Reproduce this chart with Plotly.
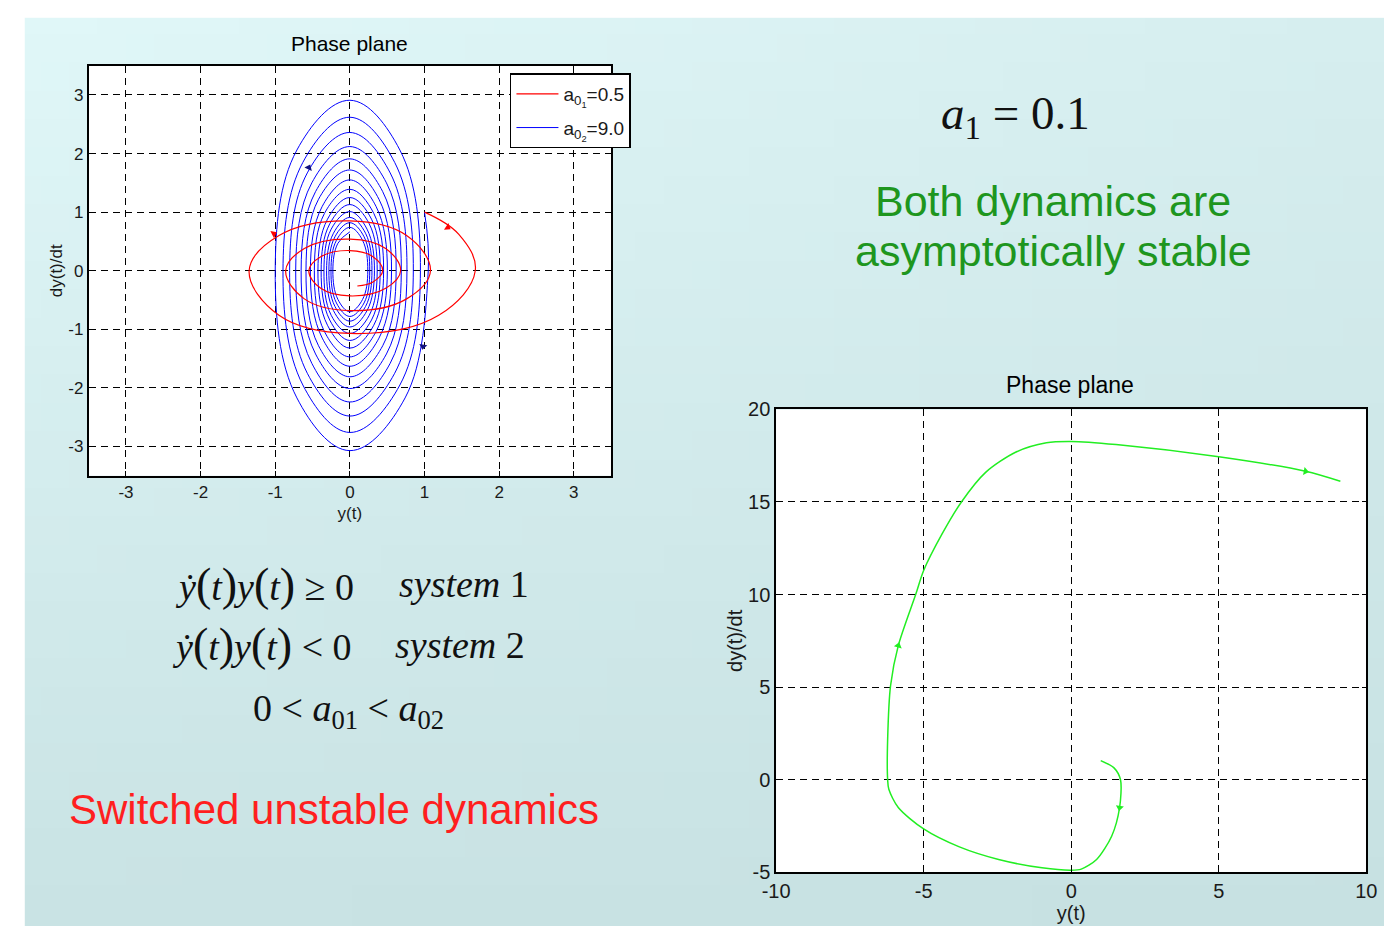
import base64
import struct
import zlib

import plotly.graph_objects as go

W, H = 1395, 937

# ---------------- data ----------------
# System 1 alone (a01 = 0.5): slowly decaying spiral in the (y, dy/dt) plane
red_y = [1.00, 1.46, 1.68, 1.19, 0.00, -0.95, -1.35, -0.95, 0.00, 0.76, 1.08, 0.76,
         0.00, -0.61, -0.86, -0.61, 0.00, 0.48, 0.68, 0.48, 0.00, -0.39, -0.55, -0.39,
         0.00, 0.31, 0.44, 0.31, 0.10]
red_dy = [1.00, 0.62, 0.00, -0.76, -1.07, -0.76, 0.00, 0.60, 0.85, 0.60, 0.00, -0.48,
          -0.68, -0.48, 0.00, 0.38, 0.54, 0.38, 0.00, -0.30, -0.43, -0.30, 0.00, 0.24,
          0.345, 0.24, 0.00, -0.19, -0.26]

# System 2 alone (a02 = 9.0): tall spiral, eight points per turn
blue_y = [1.00, 1.05, 0.74, 0, -0.71, -1.00, -0.71, 0, 0.67,
          0.945, 0.67, 0, -0.63, -0.896, -0.63, 0, 0.60,
          0.85, 0.60, 0, -0.57, -0.807, -0.57, 0, 0.54,
          0.765, 0.54, 0, -0.51, -0.726, -0.51, 0, 0.49,
          0.689, 0.49, 0, -0.46, -0.653, -0.46, 0, 0.44,
          0.62, 0.44, 0, -0.42, -0.588, -0.42, 0, 0.39,
          0.558, 0.39, 0, -0.37, -0.529, -0.37, 0, 0.35,
          0.502, 0.35, 0, -0.34, -0.476, -0.34, 0, 0.32,
          0.452, 0.32, 0, -0.30, -0.428, -0.30, 0, 0.29,
          0.406, 0.29, 0, -0.27, -0.385, -0.27, 0, 0.26,
          0.366, 0.26, 0, -0.25, -0.347, -0.25, 0, 0.23,
          0.329, 0.23, 0, -0.22, -0.312, -0.22, 0, 0.21,
          0.296, 0.21, 0, -0.20, -0.281, -0.20, 0, 0.19,
          0.266, 0.19, 0, -0.18, -0.253, -0.18, 0, 0.17,
          0.24, 0.17, 0, -0.16, -0.228, -0.16, 0]
blue_dy = [1.00, 0, -2.17, -3.07, -2.17, 0, 2.06, 2.91, 2.06,
           0, -1.95, -2.76, -1.95, 0, 1.85, 2.62, 1.85,
           0, -1.75, -2.48, -1.75, 0, 1.67, 2.36, 1.67,
           0, -1.58, -2.24, -1.58, 0, 1.50, 2.12, 1.50,
           0, -1.42, -2.01, -1.42, 0, 1.35, 1.91, 1.35,
           0, -1.28, -1.81, -1.28, 0, 1.22, 1.72, 1.22,
           0, -1.15, -1.63, -1.15, 0, 1.10, 1.55, 1.10,
           0, -1.04, -1.47, -1.04, 0, 0.98, 1.39, 0.98,
           0, -0.93, -1.32, -0.93, 0, 0.88, 1.25, 0.88,
           0, -0.84, -1.19, -0.84, 0, 0.80, 1.13, 0.80,
           0, -0.76, -1.07, -0.76, 0, 0.71, 1.01, 0.71,
           0, -0.68, -0.96, -0.68, 0, 0.64, 0.91, 0.64,
           0, -0.61, -0.86, -0.61, 0, 0.58, 0.82, 0.58,
           0, -0.55, -0.78, -0.55, 0, 0.52, 0.74, 0.52,
           0, -0.49, -0.70, -0.49, 0, 0.47, 0.665]

# Switched system trajectory
green_y = [1.0, 1.45, 1.67, 1.64, 1.37, 0.86, 0.34, 0.0, -0.99, -2.46, -3.79, -5.0,
           -5.86, -6.18, -6.22, -6.22, -6.12, -5.86, -5.27, -5.0, -4.38, -3.72, -2.9,
           -1.87, -0.84, 0.0, 1.52, 5.0, 7.94, 9.12]
green_dy = [1.03, 0.64, 0.0, -1.5, -3.05, -4.31, -4.83, -4.89, -4.76, -4.31, -3.63,
            -2.66, -1.5, -0.52, 0.0, 2.19, 5.1, 7.24, 10.0, 11.3, 13.26, 15.0, 16.6,
            17.7, 18.2, 18.27, 18.1, 17.44, 16.66, 16.12]

# direction arrowheads along the trajectories (position and heading, deg clockwise from up)
red_arrow_y = [1.31, -1.02]
red_arrow_dy = [0.74, 0.63]
red_arrow_heading = [123, 63]
blue_arrow_y = [-0.55, 0.98]
blue_arrow_dy = [1.76, -1.29]
blue_arrow_heading = [24, 190]
green_arrow_y = [1.64, -5.86, 7.94]
green_arrow_dy = [-1.5, 7.24, 16.66]
green_arrow_heading = [189, 15, 101]

left_ticks = [-3, -2, -1, 0, 1, 2, 3]
right_xticks = [-10, -5, 0, 5, 10]
right_yticks = [-5, 0, 5, 10, 15, 20]

# slide background corner colours
BG_TL = (224, 247, 248)
BG_TR = (214, 238, 239)
BG_BL = (201, 227, 228)
BG_BR = (199, 225, 226)


def gradient_png(w=48, h=32):
    raw = bytearray()
    for j in range(h):
        v = j / (h - 1)
        raw.append(0)
        for i in range(w):
            u = i / (w - 1)
            for c in range(3):
                val = ((1 - u) * (1 - v) * BG_TL[c] + u * (1 - v) * BG_TR[c]
                       + (1 - u) * v * BG_BL[c] + u * v * BG_BR[c])
                raw.append(int(round(val)))

    def chunk(tag, data):
        return (struct.pack('>I', len(data)) + tag + data
                + struct.pack('>I', zlib.crc32(tag + data) & 0xffffffff))

    png = (b'\x89PNG\r\n\x1a\n'
           + chunk(b'IHDR', struct.pack('>IIBBBBB', w, h, 8, 2, 0, 0, 0))
           + chunk(b'IDAT', zlib.compress(bytes(raw)))
           + chunk(b'IEND', b''))
    return 'data:image/png;base64,' + base64.b64encode(png).decode()


def px(x):
    return x / W


def py(y):
    return 1 - y / H


SANS = 'Liberation Sans, Arial, sans-serif'
SERIF = 'Liberation Serif, Times New Roman, serif'

fig = go.Figure()

# ---------------- left phase plane ----------------
fig.add_trace(go.Scatter(
    x=blue_y, y=blue_dy, mode='lines', name='a<sub>0<sub>2</sub></sub>=9.0',
    line=dict(color='#0000ff', width=1, shape='spline', smoothing=1.1),
    legendrank=2, legendgroup='sys2', xaxis='x', yaxis='y', hoverinfo='skip'))
fig.add_trace(go.Scatter(
    x=red_y, y=red_dy, mode='lines', name='a<sub>0<sub>1</sub></sub>=0.5',
    line=dict(color='#ff0000', width=1.2, shape='spline', smoothing=1.1),
    legendrank=1, legendgroup='sys1', xaxis='x', yaxis='y', hoverinfo='skip'))
fig.add_trace(go.Scatter(
    x=blue_arrow_y, y=blue_arrow_dy, mode='markers', showlegend=False,
    marker=dict(symbol='triangle-up', size=7, color='#101080', angle=blue_arrow_heading),
    xaxis='x', yaxis='y', hoverinfo='skip'))
fig.add_trace(go.Scatter(
    x=red_arrow_y, y=red_arrow_dy, mode='markers', showlegend=False,
    marker=dict(symbol='triangle-up', size=7, color='#ff0000', angle=red_arrow_heading),
    xaxis='x', yaxis='y', hoverinfo='skip'))

# ---------------- right phase plane ----------------
fig.add_trace(go.Scatter(
    x=green_y, y=green_dy, mode='lines', showlegend=False,
    line=dict(color='#22ee22', width=1.5, shape='spline', smoothing=0.8),
    xaxis='x2', yaxis='y2', hoverinfo='skip'))
fig.add_trace(go.Scatter(
    x=green_arrow_y, y=green_arrow_dy, mode='markers', showlegend=False,
    marker=dict(symbol='triangle-up', size=7, color='#22ee22', angle=green_arrow_heading),
    xaxis='x2', yaxis='y2', hoverinfo='skip'))


def axis_style(ticks, rng, domain, anchor, fs, title, standoff):
    return dict(
        domain=domain, range=rng, anchor=anchor,
        tickmode='array', tickvals=ticks, ticktext=[str(t) for t in ticks],
        showgrid=True, gridcolor='black', gridwidth=1, griddash='7px,5px',
        zeroline=False, showline=True, linecolor='black', linewidth=1.5,
        mirror='allticks', ticks='inside', ticklen=5, tickcolor='black',
        tickfont=dict(family=SANS, size=fs, color='#1a1a1a'),
        title=dict(text=title, standoff=standoff,
                   font=dict(family=SANS, size=fs, color='#1a1a1a')),
        fixedrange=True)


fig.update_layout(
    xaxis=axis_style(left_ticks, [-3.5, 3.5], [px(76), px(608)], 'y', 17, 'y(t)', 6),
    yaxis=axis_style(left_ticks, [-3.5, 3.5], [py(476), py(56)], 'x', 17, 'dy(t)/dt', 1),
    xaxis2=axis_style(right_xticks, [-10, 10], [px(776), px(1377)], 'y2', 20, 'y(t)', 2),
    yaxis2=axis_style(right_yticks, [-5, 20], [py(882), py(408)], 'x2', 20, 'dy(t)/dt', 0),
)

PAREN = '<span style="font-size:46px">{}</span>'
lhs = ('<i>\u1e8f</i>' + PAREN.format('(') + '<i>t</i>' + PAREN.format(')')
       + '<i>y</i>' + PAREN.format('(') + '<i>t</i>' + PAREN.format(')'))

annotations = [
    dict(text='Phase plane', x=px(342), y=py(33), font=dict(family=SANS, size=21, color='black')),
    dict(text='Phase plane', x=px(1075), y=py(383), font=dict(family=SANS, size=23, color='black')),
    dict(text='<i>a</i><sub>1</sub>\u00a0=\u00a00.1', x=px(1020), y=py(108),
         font=dict(family=SERIF, size=47, color='#111111')),
    dict(text='Both dynamics are', x=px(1058), y=py(195),
         font=dict(family=SANS, size=43, color='#1e961e')),
    dict(text='asymptotically stable', x=px(1058), y=py(246),
         font=dict(family=SANS, size=43, color='#1e961e')),
    dict(text=lhs + '\u00a0\u2265\u00a00', x=px(162), y=py(587),
         xanchor='left', font=dict(family=SERIF, size=38, color='#111111')),
    dict(text='<i>system</i>\u00a01', x=px(390), y=py(587), xanchor='left',
         font=dict(family=SERIF, size=38, color='#111111')),
    dict(text=lhs + '\u00a0<\u00a00', x=px(159), y=py(649),
         xanchor='left', font=dict(family=SERIF, size=38, color='#111111')),
    dict(text='<i>system</i>\u00a02', x=px(386), y=py(649), xanchor='left',
         font=dict(family=SERIF, size=38, color='#111111')),
    dict(text='0\u00a0<\u00a0<i>a</i><sub>01</sub>\u00a0<\u00a0<i>a</i><sub>02</sub>', x=px(341), y=py(717),
         font=dict(family=SERIF, size=38, color='#111111')),
    dict(text='Switched unstable dynamics', x=px(326), y=py(818),
         font=dict(family=SANS, size=42, color='#ff1f1f')),
]
for a in annotations:
    a.setdefault('xanchor', 'center')
    a.update(xref='paper', yref='paper', yanchor='middle', showarrow=False)

fig.update_layout(
    width=W, height=H, autosize=False,
    margin=dict(l=0, r=0, t=0, b=0, pad=0),
    paper_bgcolor='white', plot_bgcolor='white',
    showlegend=True,
    legend=dict(x=px(505), y=py(64), xanchor='left', yanchor='top',
                bgcolor='white', bordercolor='black', borderwidth=1.5,
                font=dict(family=SANS, size=19, color='#1a1a1a'),
                tracegroupgap=6, itemwidth=42,
                entrywidth=116, entrywidthmode='pixels'),
    images=[dict(source=gradient_png(), xref='paper', yref='paper',
                 x=px(11), y=py(7), sizex=1 - px(11), sizey=py(7),
                 xanchor='left', yanchor='top', sizing='stretch', layer='below')],
    shapes=[dict(type='rect', xref='x domain', yref='y domain', x0=0, x1=1, y0=0, y1=1,
                 fillcolor='white', line=dict(width=0), layer='below'),
            dict(type='rect', xref='x2 domain', yref='y2 domain', x0=0, x1=1, y0=0, y1=1,
                 fillcolor='white', line=dict(width=0), layer='below')],
    annotations=annotations,
)

fig.write_html(
    'out.html',
    config={'displayModeBar': False},
    post_script="document.body.style.margin='0';document.body.style.overflow='hidden';",
)
